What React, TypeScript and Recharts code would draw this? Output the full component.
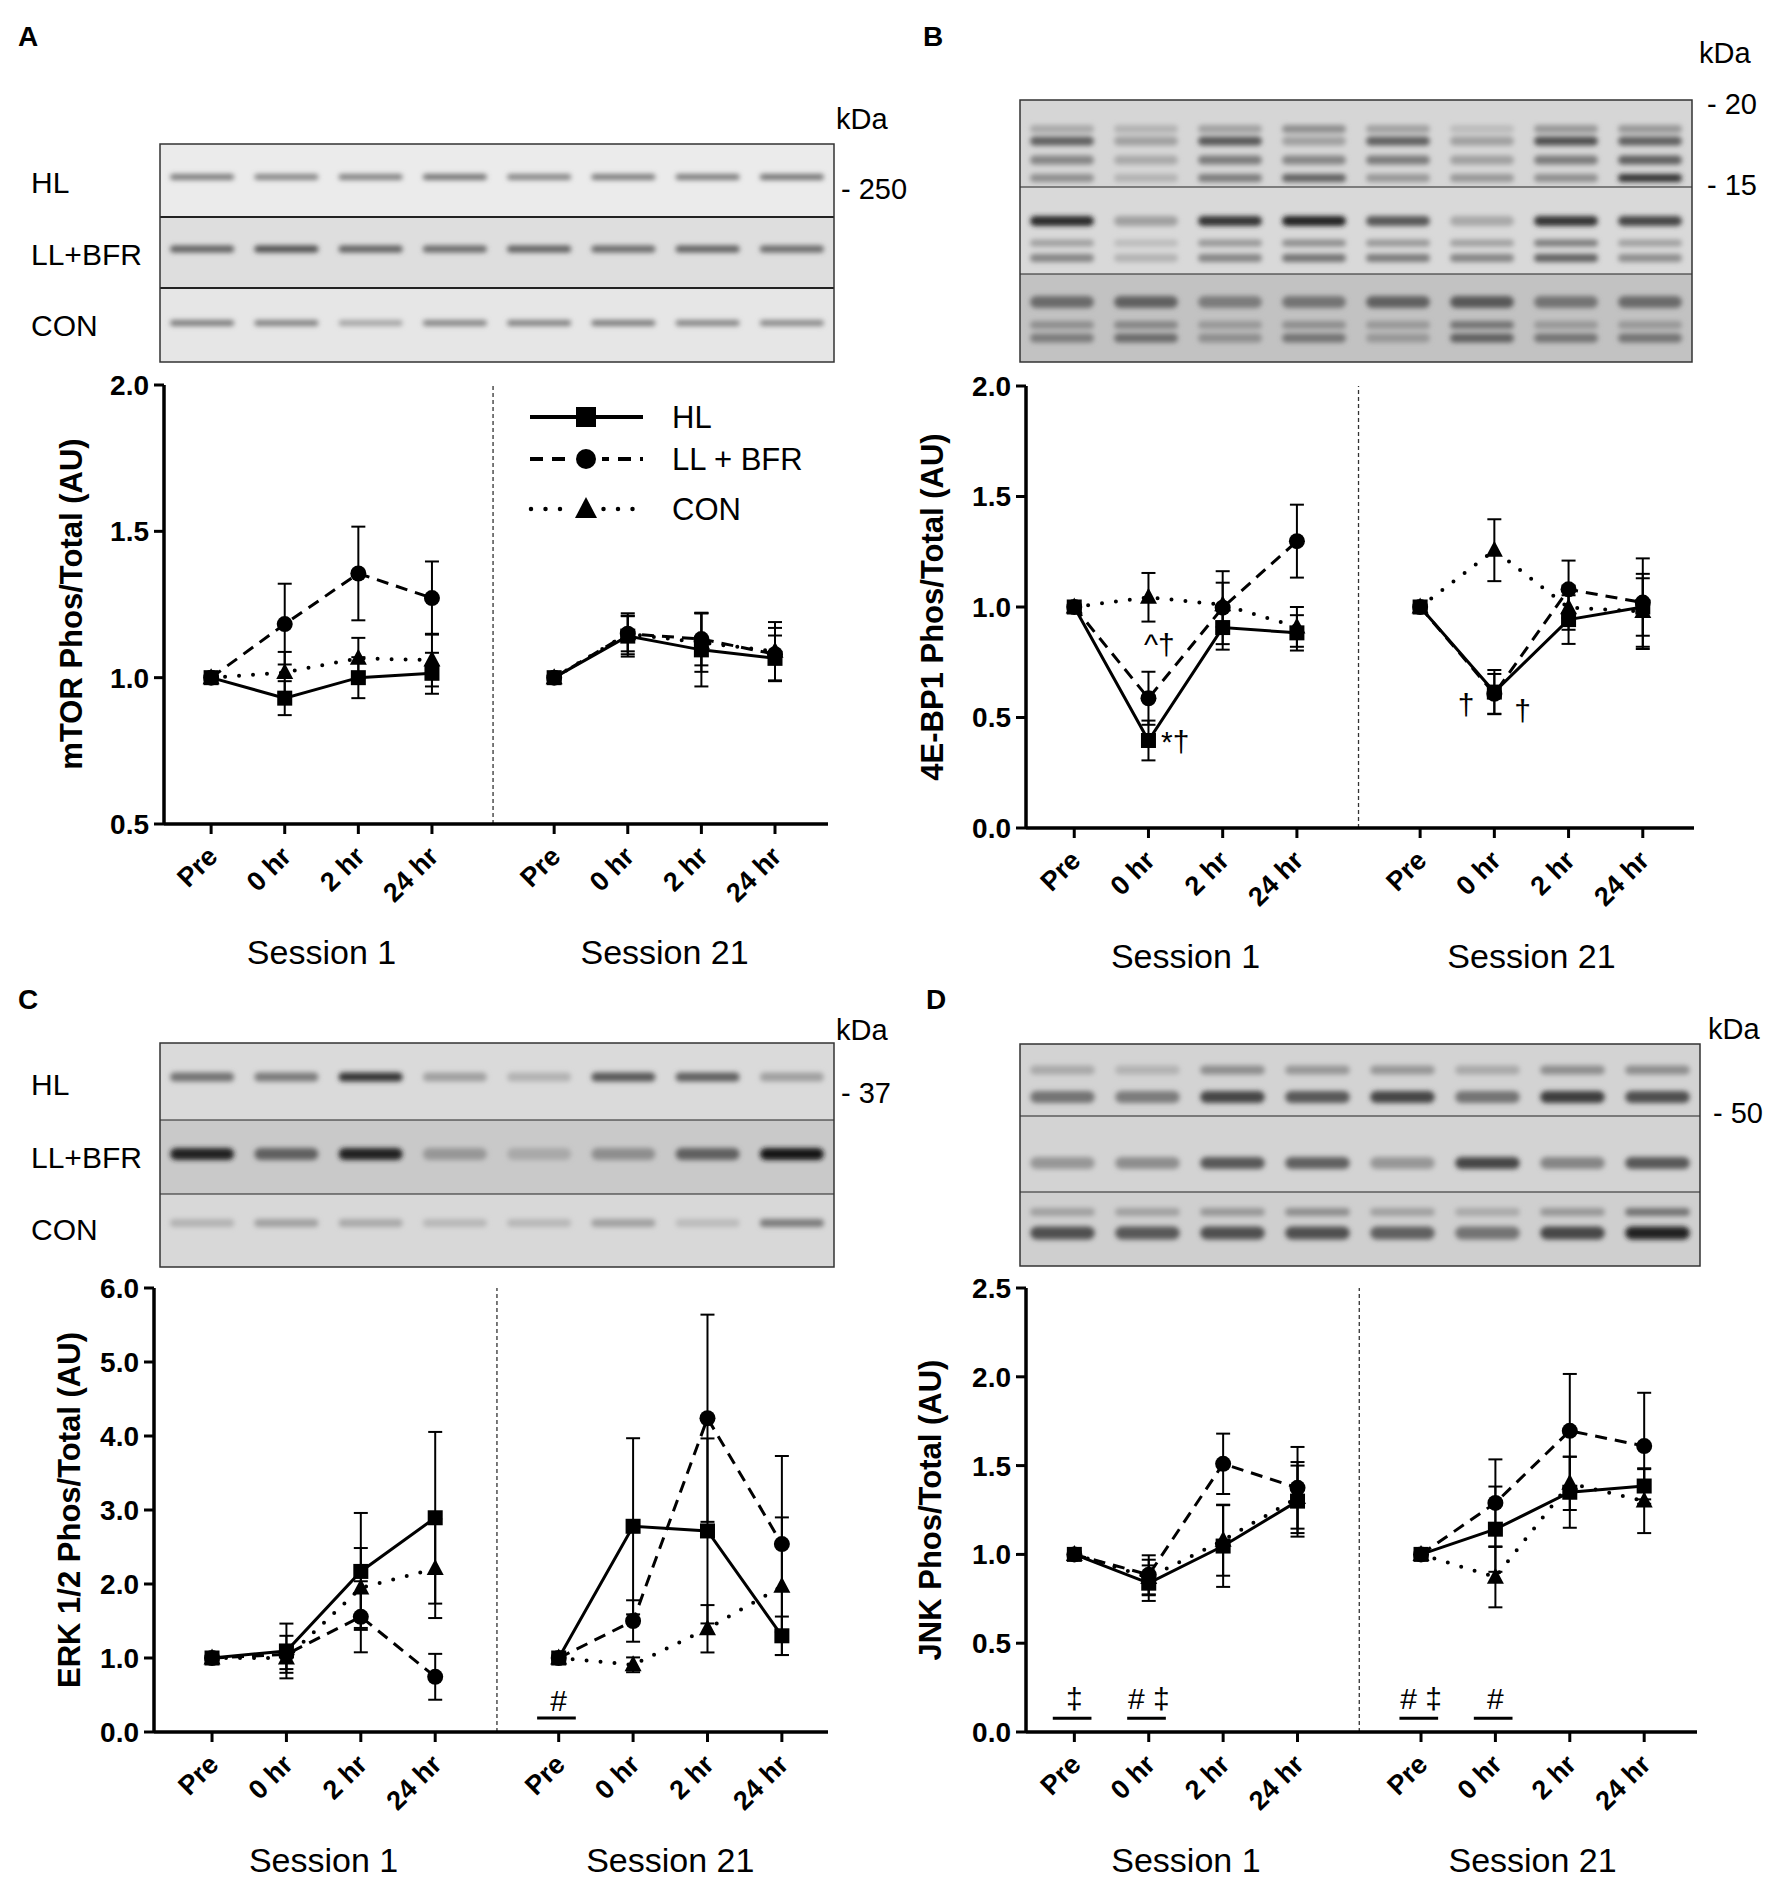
import React from "react";
import {
  ComposedChart,
  Line,
  XAxis,
  YAxis,
  ErrorBar,
  ReferenceLine,
  ReferenceDot,
} from "recharts";

const FONT = '"Liberation Sans", Arial, Helvetica, sans-serif';

const timepoints = ["Pre", "0 hr", "2 hr", "24 hr"];
const sessions = ["Session 1", "Session 21"];
const groups = ["HL", "LL + BFR", "CON"];
const blotLabels = ["HL", "LL+BFR", "CON"];

// A - mTOR (Session 1 x4, Session 21 x4)
const mtorHL = [1.0, 0.93, 1.0, 1.015, 1.0, 1.142, 1.095, 1.066];
const mtorHLErr = [0, 0.058, 0.07, 0.07, 0, 0.07, 0.125, 0.078];
const mtorLL = [1.0, 1.183, 1.356, 1.272, 1.0, 1.15, 1.132, 1.08];
const mtorLLErr = [0, 0.138, 0.16, 0.125, 0, 0.06, 0.09, 0.09];
const mtorCON = [1.0, 1.018, 1.066, 1.06, 1.0, 1.15, 1.12, 1.09];
const mtorCONErr = [0, 0.07, 0.07, 0.09, 0, 0.07, 0.1, 0.1];

// B - 4E-BP1
const bpHL = [1.0, 0.396, 0.907, 0.883, 1.0, 0.615, 0.943, 1.0];
const bpHLErr = [0, 0.09, 0.1, 0.08, 0, 0.1, 0.11, 0.13];
const bpLL = [1.0, 0.587, 0.997, 1.298, 1.0, 0.607, 1.08, 1.02];
const bpLLErr = [0, 0.12, 0.165, 0.165, 0, 0.09, 0.13, 0.2];
const bpCON = [1.0, 1.044, 1.01, 0.91, 1.0, 1.257, 0.997, 0.98];
const bpCONErr = [0, 0.11, 0.1, 0.09, 0, 0.14, 0.1, 0.17];

// C - ERK 1/2
const erkHL = [1.0, 1.095, 2.17, 2.895, 1.0, 2.78, 2.717, 1.3];
const erkHLErr = [0, 0.37, 0.79, 1.16, 0, 1.19, 1.25, 0.26];
const erkLL = [1.0, 1.05, 1.557, 0.746, 1.0, 1.5, 4.24, 2.54];
const erkLLErr = [0, 0.25, 0.48, 0.31, 0, 0.28, 1.4, 1.19];
const erkCON = [1.0, 1.0, 1.946, 2.21, 1.0, 0.908, 1.395, 1.97];
const erkCONErr = [0, 0.15, 0.54, 0.67, 0, 0.1, 0.32, 0.93];

// D - JNK
const jnkHL = [1.0, 0.838, 1.047, 1.3, 1.0, 1.142, 1.35, 1.385];
const jnkHLErr = [0, 0.1, 0.23, 0.2, 0, 0.24, 0.2, 0.1];
const jnkLL = [1.0, 0.885, 1.51, 1.375, 1.0, 1.29, 1.696, 1.61];
const jnkLLErr = [0, 0.11, 0.17, 0.23, 0, 0.245, 0.32, 0.3];
const jnkCON = [1.0, 0.87, 1.08, 1.32, 1.0, 0.872, 1.4, 1.3];
const jnkCONErr = [0, 0.1, 0.2, 0.2, 0, 0.17, 0.15, 0.18];

// significance marks (session, timepoint, value)
const bpNotes = [
  { s: 0, t: 1, dx: -0.06, y: 0.83, text: "^†", anchor: "start" },
  { s: 0, t: 1, dx: 0.17, y: 0.39, text: "*†", anchor: "start" },
  { s: 1, t: 1, dx: -0.38, y: 0.56, text: "†", anchor: "middle" },
  { s: 1, t: 1, dx: 0.38, y: 0.53, text: "†", anchor: "middle" },
];
const erkNotes = [{ s: 1, t: 0, dx: 0, y: 0.42, text: "#", anchor: "middle" }];
const erkBars = [{ s: 1, t: 0, y: 0.19 }];
const jnkNotes = [
  { s: 0, t: 0, dx: 0, y: 0.19, text: "‡", anchor: "middle" },
  { s: 0, t: 1, dx: 0, y: 0.19, text: "# ‡", anchor: "middle" },
  { s: 1, t: 0, dx: 0, y: 0.19, text: "# ‡", anchor: "middle" },
  { s: 1, t: 1, dx: 0, y: 0.19, text: "#", anchor: "middle" },
];
const jnkBars = [
  { s: 0, t: 0, y: 0.078 },
  { s: 0, t: 1, y: 0.078 },
  { s: 1, t: 0, y: 0.078 },
  { s: 1, t: 1, y: 0.078 },
];

// western blot band intensities (0..1), 8 lanes each
const blotA = [
  [[0.45, 0.4, 0.42, 0.5, 0.4, 0.45, 0.45, 0.5]],
  [[0.6, 0.7, 0.6, 0.55, 0.6, 0.55, 0.6, 0.55]],
  [[0.45, 0.42, 0.22, 0.4, 0.42, 0.45, 0.4, 0.38]],
];
const blotB = [
  [
    [0.2, 0.15, 0.25, 0.35, 0.25, 0.1, 0.3, 0.3],
    [0.6, 0.25, 0.65, 0.25, 0.6, 0.25, 0.7, 0.6],
    [0.4, 0.2, 0.45, 0.4, 0.45, 0.25, 0.45, 0.6],
    [0.35, 0.15, 0.45, 0.6, 0.3, 0.3, 0.35, 0.85],
  ],
  [
    [0.9, 0.25, 0.85, 0.95, 0.65, 0.2, 0.85, 0.75],
    [0.25, 0.1, 0.3, 0.35, 0.3, 0.25, 0.45, 0.25],
    [0.4, 0.15, 0.4, 0.5, 0.45, 0.4, 0.6, 0.35],
  ],
  [
    [0.55, 0.6, 0.45, 0.5, 0.6, 0.65, 0.5, 0.55],
    [0.35, 0.4, 0.3, 0.35, 0.3, 0.5, 0.3, 0.3],
    [0.45, 0.55, 0.35, 0.5, 0.3, 0.6, 0.5, 0.5],
  ],
];
const blotC = [
  [[0.5, 0.45, 0.85, 0.25, 0.15, 0.65, 0.6, 0.25]],
  [[0.95, 0.6, 0.95, 0.3, 0.2, 0.35, 0.6, 1.0]],
  [[0.15, 0.25, 0.2, 0.12, 0.12, 0.25, 0.1, 0.45]],
];
const blotD = [
  [
    [0.2, 0.15, 0.35, 0.3, 0.3, 0.2, 0.35, 0.35],
    [0.5, 0.45, 0.75, 0.65, 0.75, 0.5, 0.8, 0.7],
  ],
  [[0.3, 0.35, 0.65, 0.6, 0.3, 0.75, 0.4, 0.65]],
  [
    [0.25, 0.25, 0.3, 0.35, 0.25, 0.2, 0.3, 0.5],
    [0.7, 0.65, 0.7, 0.7, 0.6, 0.5, 0.75, 0.95],
  ],
];

const SESSION_GAP = 4.66;
const DIVIDER = 3.83;
const TICK_LEN = 10;
const YW = 150;
const XH = 150;
const MT = 20;
const MR = 30;

const xPos = (s: number, t: number) => t + s * SESSION_GAP;
const tickPositions = [0, 1, 2, 3].flatMap((t) => [xPos(0, t), xPos(1, t)]).sort((a, b) => a - b);
const sessionCenters = [1.5, 1.5 + SESSION_GAP];
const allTicks = [...tickPositions, ...sessionCenters].sort((a, b) => a - b);

function buildRows(hl: number[], hlE: number[], ll: number[], llE: number[], con: number[], conE: number[]) {
  const rows: any[] = [];
  for (let s = 0; s < 2; s++) {
    if (s === 1) rows.push({ x: DIVIDER, hl: null, ll: null, con: null });
    for (let t = 0; t < 4; t++) {
      const i = s * 4 + t;
      rows.push({ x: xPos(s, t), hl: hl[i], hlErr: hlE[i], ll: ll[i], llErr: llE[i], con: con[i], conErr: conE[i] });
    }
  }
  return rows;
}

const squareDot = (p: any) =>
  p.cx == null || p.cy == null ? (
    <g key={`s${p.index}`} />
  ) : (
    <rect key={`s${p.index}`} x={p.cx - 7.5} y={p.cy - 7.5} width={15} height={15} fill="#000" />
  );
const circleDot = (p: any) =>
  p.cx == null || p.cy == null ? (
    <g key={`c${p.index}`} />
  ) : (
    <circle key={`c${p.index}`} cx={p.cx} cy={p.cy} r={8} fill="#000" />
  );
const triangleDot = (p: any) =>
  p.cx == null || p.cy == null ? (
    <g key={`t${p.index}`} />
  ) : (
    <polygon
      key={`t${p.index}`}
      points={`${p.cx},${p.cy - 9.5} ${p.cx - 8.5},${p.cy + 6.5} ${p.cx + 8.5},${p.cy + 6.5}`}
      fill="#000"
    />
  );

const renderXTick = (props: any) => {
  const { x, y, payload } = props;
  const v = payload.value as number;
  const axisY = y - TICK_LEN;
  const ti = tickPositions.findIndex((p) => Math.abs(p - v) < 1e-6);
  if (ti >= 0) {
    const label = timepoints[Math.round(v >= SESSION_GAP ? v - SESSION_GAP : v)];
    return (
      <g>
        <line x1={x} y1={axisY} x2={x} y2={y} stroke="#000" strokeWidth={3} />
        <text
          transform={`translate(${x + 8},${axisY + 34}) rotate(-45)`}
          textAnchor="end"
          fontSize={27}
          fontWeight="bold"
          fontFamily={FONT}
          fill="#000"
        >
          {label}
        </text>
      </g>
    );
  }
  const si = sessionCenters.findIndex((p) => Math.abs(p - v) < 1e-6);
  return (
    <text x={x} y={axisY + 128} dy="0.35em" textAnchor="middle" fontSize={34} fontFamily={FONT} fill="#000">
      {sessions[si]}
    </text>
  );
};

type Note = { s: number; t: number; dx: number; y: number; text: string; anchor: string };
type Bar = { s: number; t: number; y: number };

type PanelProps = {
  left: number;
  right: number;
  top: number;
  bottom: number;
  xDomain: [number, number];
  yDomain: [number, number];
  yTicks: number[];
  rows: any[];
  notes?: Note[];
  bars?: Bar[];
};

function Panel({ left, right, top, bottom, xDomain, yDomain, yTicks, rows, notes = [], bars = [] }: PanelProps) {
  const width = YW + (right - left) + MR;
  const height = MT + (bottom - top) + XH;
  return (
    <div style={{ position: "absolute", left: left - YW, top: top - MT }}>
      <ComposedChart width={width} height={height} data={rows} margin={{ top: MT, right: MR, bottom: 0, left: 0 }}>
        <XAxis
          type="number"
          dataKey="x"
          domain={xDomain}
          allowDataOverflow
          ticks={allTicks}
          interval={0}
          height={XH}
          tick={renderXTick}
          tickLine={false}
          tickSize={TICK_LEN}
          tickMargin={0}
          axisLine={{ stroke: "#000", strokeWidth: 3.5 }}
        />
        <YAxis
          type="number"
          domain={yDomain}
          allowDataOverflow
          ticks={yTicks}
          interval={0}
          width={YW}
          tickFormatter={(v: number) => v.toFixed(1)}
          tick={{ fill: "#000", fontSize: 28, fontWeight: "bold", fontFamily: FONT }}
          tickLine={{ stroke: "#000", strokeWidth: 3 }}
          tickSize={TICK_LEN}
          tickMargin={5}
          axisLine={{ stroke: "#000", strokeWidth: 3.5 }}
        />
        <ReferenceLine x={DIVIDER} stroke="#333" strokeWidth={1.3} strokeDasharray="4 3" />
        {bars.map((b, i) => (
          <ReferenceLine
            key={`b${i}`}
            segment={[
              { x: xPos(b.s, b.t) - 0.29, y: b.y },
              { x: xPos(b.s, b.t) + 0.23, y: b.y },
            ]}
            stroke="#000"
            strokeWidth={3}
            ifOverflow="visible"
          />
        ))}
        {notes.map((n, i) => (
          <ReferenceDot
            key={`n${i}`}
            x={xPos(n.s, n.t) + n.dx}
            y={n.y}
            r={0}
            ifOverflow="visible"
            shape={(p: any) => (
              <text
                x={p.cx}
                y={p.cy}
                dy="0.35em"
                textAnchor={n.anchor as any}
                fontSize={30}
                fontFamily={FONT}
                fill="#000"
              >
                {n.text}
              </text>
            )}
          />
        ))}
        <Line
          dataKey="con"
          type="linear"
          stroke="#000"
          strokeWidth={4}
          strokeDasharray="0 14"
          strokeLinecap="round"
          dot={triangleDot}
          activeDot={false}
          connectNulls={false}
          isAnimationActive={false}
        >
          <ErrorBar dataKey="conErr" direction="y" width={7} stroke="#000" strokeWidth={2} isAnimationActive={false} />
        </Line>
        <Line
          dataKey="ll"
          type="linear"
          stroke="#000"
          strokeWidth={3}
          strokeDasharray="12 8"
          dot={circleDot}
          activeDot={false}
          connectNulls={false}
          isAnimationActive={false}
        >
          <ErrorBar dataKey="llErr" direction="y" width={7} stroke="#000" strokeWidth={2} isAnimationActive={false} />
        </Line>
        <Line
          dataKey="hl"
          type="linear"
          stroke="#000"
          strokeWidth={3}
          dot={squareDot}
          activeDot={false}
          connectNulls={false}
          isAnimationActive={false}
        >
          <ErrorBar dataKey="hlErr" direction="y" width={7} stroke="#000" strokeWidth={2} isAnimationActive={false} />
        </Line>
      </ComposedChart>
    </div>
  );
}

type BandSpec = { y: number; h: number };
type RowSpec = { y0: number; y1: number; bg: string; bands: BandSpec[] };

const gray = (lv: number) => {
  const g = Math.round(205 - lv * 180);
  return `rgb(${g},${g},${g})`;
};

function Blot({ x0, x1, rows, levels, divider }: { x0: number; x1: number; rows: RowSpec[]; levels: number[][][]; divider: number }) {
  const lane = (x1 - x0) / 8;
  const yTop = rows[0].y0;
  const yBot = rows[rows.length - 1].y1;
  return (
    <g>
      {rows.map((r, ri) => (
        <g key={ri}>
          <rect x={x0} y={r.y0} width={x1 - x0} height={r.y1 - r.y0} fill={r.bg} />
          <g filter="url(#bandBlur)">
            {r.bands.map((b, bi) =>
              levels[ri][bi].map((lv, li) => (
                <rect
                  key={`${bi}-${li}`}
                  x={x0 + lane * li + lane * 0.12}
                  y={b.y - b.h / 2}
                  width={lane * 0.76}
                  height={b.h}
                  rx={b.h / 2}
                  fill={gray(lv)}
                />
              ))
            )}
          </g>
        </g>
      ))}
      {rows.slice(1).map((r, i) => (
        <line key={i} x1={x0} x2={x1} y1={r.y0} y2={r.y0} stroke="#222" strokeWidth={divider} />
      ))}
      <rect x={x0} y={yTop} width={x1 - x0} height={yBot - yTop} fill="none" stroke="#333" strokeWidth={1.5} />
    </g>
  );
}

const txt = { fontFamily: FONT, fill: "#000" } as const;

function Overlay() {
  const yLabel = (x: number, cy: number, text: string) => (
    <text transform={`translate(${x},${cy}) rotate(-90)`} textAnchor="middle" fontSize={31} fontWeight="bold" {...txt}>
      {text}
    </text>
  );
  const legendY = [417, 459, 509];
  return (
    <svg width={1775} height={1879} style={{ position: "absolute", left: 0, top: 0, pointerEvents: "none" }}>
      <defs>
        <filter id="bandBlur" x="-20%" y="-100%" width="140%" height="300%">
          <feGaussianBlur stdDeviation="2.6" />
        </filter>
      </defs>

      {/* panel letters */}
      <text x={18} y={46} fontSize={28} fontWeight="bold" {...txt}>A</text>
      <text x={923} y={46} fontSize={28} fontWeight="bold" {...txt}>B</text>
      <text x={18} y={1009} fontSize={28} fontWeight="bold" {...txt}>C</text>
      <text x={926} y={1009} fontSize={28} fontWeight="bold" {...txt}>D</text>

      {/* blots */}
      <Blot
        x0={160}
        x1={834}
        divider={2}
        levels={blotA}
        rows={[
          { y0: 144, y1: 217, bg: "#ebebeb", bands: [{ y: 177, h: 6 }] },
          { y0: 217, y1: 288, bg: "#dedede", bands: [{ y: 249, h: 7 }] },
          { y0: 288, y1: 362, bg: "#e6e6e6", bands: [{ y: 323, h: 6 }] },
        ]}
      />
      <Blot
        x0={1020}
        x1={1692}
        divider={1.2}
        levels={blotB}
        rows={[
          { y0: 100, y1: 187, bg: "#d6d6d6", bands: [{ y: 129, h: 8 }, { y: 141, h: 9 }, { y: 160, h: 9 }, { y: 178, h: 8 }] },
          { y0: 187, y1: 274, bg: "#d9d9d9", bands: [{ y: 221, h: 10 }, { y: 243, h: 7 }, { y: 258, h: 8 }] },
          { y0: 274, y1: 362, bg: "#c2c2c2", bands: [{ y: 302, h: 12 }, { y: 325, h: 8 }, { y: 338, h: 9 }] },
        ]}
      />
      <Blot
        x0={160}
        x1={834}
        divider={1.2}
        levels={blotC}
        rows={[
          { y0: 1043, y1: 1120, bg: "#dadada", bands: [{ y: 1077, h: 9 }] },
          { y0: 1120, y1: 1194, bg: "#c9c9c9", bands: [{ y: 1154, h: 12 }] },
          { y0: 1194, y1: 1267, bg: "#d8d8d8", bands: [{ y: 1223, h: 8 }] },
        ]}
      />
      <Blot
        x0={1020}
        x1={1700}
        divider={1.2}
        levels={blotD}
        rows={[
          { y0: 1044, y1: 1116, bg: "#d3d3d3", bands: [{ y: 1070, h: 9 }, { y: 1097, h: 12 }] },
          { y0: 1116, y1: 1192, bg: "#d3d3d3", bands: [{ y: 1163, h: 12 }] },
          { y0: 1192, y1: 1266, bg: "#cfcfcf", bands: [{ y: 1212, h: 8 }, { y: 1233, h: 13 }] },
        ]}
      />

      {/* blot row labels */}
      {blotLabels.map((l, i) => (
        <text key={`la${i}`} x={31} y={[182, 254, 325][i]} dy="0.35em" fontSize={30} {...txt}>{l}</text>
      ))}
      {blotLabels.map((l, i) => (
        <text key={`lc${i}`} x={31} y={[1084, 1157, 1229][i]} dy="0.35em" fontSize={30} {...txt}>{l}</text>
      ))}

      {/* molecular weight markers */}
      <text x={836} y={119} dy="0.35em" fontSize={29} {...txt}>kDa</text>
      <text x={841} y={189} dy="0.35em" fontSize={29} {...txt}>- 250</text>
      <text x={1699} y={53} dy="0.35em" fontSize={29} {...txt}>kDa</text>
      <text x={1707} y={104} dy="0.35em" fontSize={29} {...txt}>- 20</text>
      <text x={1707} y={185} dy="0.35em" fontSize={29} {...txt}>- 15</text>
      <text x={836} y={1030} dy="0.35em" fontSize={29} {...txt}>kDa</text>
      <text x={841} y={1093} dy="0.35em" fontSize={29} {...txt}>- 37</text>
      <text x={1708} y={1029} dy="0.35em" fontSize={29} {...txt}>kDa</text>
      <text x={1713} y={1113} dy="0.35em" fontSize={29} {...txt}>- 50</text>

      {/* y axis titles */}
      {yLabel(82, 604, "mTOR Phos/Total (AU)")}
      {yLabel(943, 607, "4E-BP1 Phos/Total (AU)")}
      {yLabel(80, 1510, "ERK 1/2 Phos/Total (AU)")}
      {yLabel(941, 1510, "JNK Phos/Total (AU)")}

      {/* legend (panel A) */}
      <line x1={530} x2={643} y1={legendY[0]} y2={legendY[0]} stroke="#000" strokeWidth={4} />
      <rect x={576} y={legendY[0] - 10} width={20} height={20} fill="#000" />
      <line x1={530} x2={643} y1={legendY[1]} y2={legendY[1]} stroke="#000" strokeWidth={4} strokeDasharray="13 9" />
      <rect x={570} y={legendY[1] - 12} width={32} height={24} fill="#fff" />
      <circle cx={586} cy={legendY[1]} r={10} fill="#000" />
      <line x1={531} x2={643} y1={legendY[2]} y2={legendY[2]} stroke="#000" strokeWidth={4.5} strokeDasharray="0 14.5" strokeLinecap="round" />
      <rect x={572} y={legendY[2] - 13} width={28} height={26} fill="#fff" />
      <polygon points={`586,${legendY[2] - 12} 575,${legendY[2] + 9} 597,${legendY[2] + 9}`} fill="#000" />
      {groups.map((g, i) => (
        <text key={g} x={672} y={legendY[i]} dy="0.35em" fontSize={31} {...txt}>{g}</text>
      ))}
    </svg>
  );
}

export default function App() {
  return (
    <div
      style={{
        position: "absolute",
        left: 0,
        top: 0,
        width: 1775,
        height: 1879,
        background: "#fff",
        overflow: "hidden",
        fontFamily: FONT,
      }}
    >
      <Panel
        left={164}
        right={828}
        top={385}
        bottom={824}
        xDomain={[-0.64, 8.38]}
        yDomain={[0.5, 2.0]}
        yTicks={[0.5, 1.0, 1.5, 2.0]}
        rows={buildRows(mtorHL, mtorHLErr, mtorLL, mtorLLErr, mtorCON, mtorCONErr)}
      />
      <Panel
        left={1026}
        right={1694}
        top={386}
        bottom={828}
        xDomain={[-0.65, 8.35]}
        yDomain={[0, 2.0]}
        yTicks={[0, 0.5, 1.0, 1.5, 2.0]}
        rows={buildRows(bpHL, bpHLErr, bpLL, bpLLErr, bpCON, bpCONErr)}
        notes={bpNotes}
      />
      <Panel
        left={154}
        right={828}
        top={1288}
        bottom={1732}
        xDomain={[-0.78, 8.28]}
        yDomain={[0, 6.0]}
        yTicks={[0, 1, 2, 3, 4, 5, 6]}
        rows={buildRows(erkHL, erkHLErr, erkLL, erkLLErr, erkCON, erkCONErr)}
        notes={erkNotes}
        bars={erkBars}
      />
      <Panel
        left={1026}
        right={1697}
        top={1288}
        bottom={1732}
        xDomain={[-0.65, 8.37]}
        yDomain={[0, 2.5]}
        yTicks={[0, 0.5, 1.0, 1.5, 2.0, 2.5]}
        rows={buildRows(jnkHL, jnkHLErr, jnkLL, jnkLLErr, jnkCON, jnkCONErr)}
        notes={jnkNotes}
        bars={jnkBars}
      />
      <Overlay />
    </div>
  );
}
